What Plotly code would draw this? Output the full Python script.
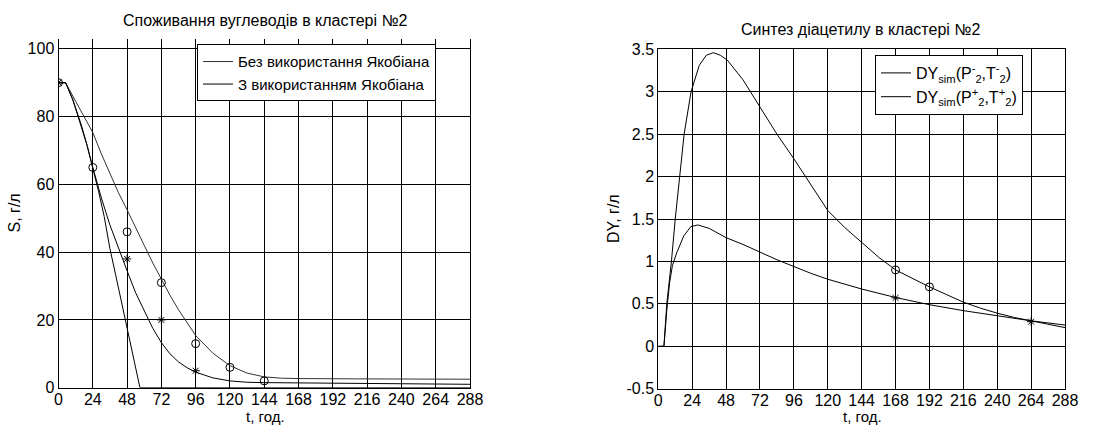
import plotly.graph_objects as go

# ---------------- data (left panel: substrate S, g/l) ----------------
t_A = [0, 5, 10, 16, 20, 24, 28, 32, 36, 40, 44, 48, 52, 56, 57, 100, 200, 288]
S_A = [90, 90, 85, 77.5, 71.5, 65, 58, 50.5, 41, 33.3, 25.5, 17, 9.5, 1.8, 0, 0, 0, 0]

t_B = [0, 5, 10, 16, 20, 24, 30, 36, 42, 48, 54, 60, 66, 72, 78, 84, 90, 96, 108, 120, 132, 144, 200, 288]
S_B = [90, 90, 85, 77, 71.5, 65, 56, 48, 41, 34.5, 28, 22.5, 17.5, 13.3, 10, 7.6, 5.9, 4.6, 2.9, 2.0, 1.6, 1.5, 1.3, 1.0]

t_C = [0, 5, 12, 18, 24, 30, 36, 42, 48, 54, 60, 66, 72, 78, 84, 90, 96, 108, 120, 132, 144, 156, 168, 210, 288]
S_C = [90, 90, 84.5, 80, 75.3, 69, 63, 57.5, 52.5, 47, 42, 36.8, 32, 27.3, 23, 19, 15.4, 10.2, 6.5, 4.3, 3.2, 2.8, 2.7, 2.6, 2.5]

t_circ_S = [0, 24, 48, 72, 96, 120, 144]
S_circ = [90, 65, 46, 31, 13, 6, 2]
t_star_S = [0, 48, 72, 96]
S_star = [90, 38, 20, 5]

# ---------------- data (right panel: diacetyl DY, g/l) ----------------
t_P = [0, 4, 6, 9.3, 12, 15, 18.3, 23.2, 29, 34, 39, 44, 49, 60, 72, 84, 96, 108, 120, 132,
       144, 156, 168, 180, 192, 204, 216, 228, 240, 252, 264, 276, 288]
DY_P = [0, 0, 0.5, 1.0, 1.5, 2.0, 2.5, 3.0, 3.31, 3.43, 3.46, 3.43, 3.37, 3.14, 2.82, 2.5, 2.21, 1.9, 1.6, 1.4,
        1.22, 1.05, 0.90, 0.80, 0.70, 0.61, 0.52, 0.45, 0.39, 0.34, 0.30, 0.26, 0.22]

t_Q = [0, 4, 6, 8, 10, 13, 18, 23, 28, 36, 48, 60, 72, 84, 96, 108, 120, 144, 168, 192, 216, 240, 264, 288]
DY_Q = [0, 0, 0.42, 0.75, 0.95, 1.1, 1.3, 1.41, 1.43, 1.39, 1.28, 1.2, 1.11, 1.02, 0.94, 0.86, 0.79, 0.675,
        0.575, 0.49, 0.42, 0.36, 0.30, 0.25]

t_circ_DY = [168, 192]
DY_circ = [0.9, 0.7]
t_star_DY = [168, 264]
DY_star = [0.57, 0.29]

x_ticks = list(range(0, 289, 24))
S_ticks = [0, 20, 40, 60, 80, 100]
DY_ticks = [-0.5, 0, 0.5, 1, 1.5, 2, 2.5, 3, 3.5]
DY_ticktext = ["-0.5", "0", "0.5", "1", "1.5", "2", "2.5", "3", "3.5"]

legend_S = ["Без використання Якобіана", "З використанням Якобіана"]
legend_DY = ["DY<sub>sim</sub>(P<sup>-</sup><sub>2</sub>,T<sup>-</sup><sub>2</sub>)",
             "DY<sub>sim</sub>(P<sup>+</sup><sub>2</sub>,T<sup>+</sup><sub>2</sub>)"]

FONT = "Liberation Sans, Arial, sans-serif"
FS = 16

fig = go.Figure()

# left panel
fig.add_trace(go.Scatter(x=t_C, y=S_C, mode="lines", name=legend_S[0],
                         line=dict(color="#333333", width=1), xaxis="x", yaxis="y", legend="legend"))
fig.add_trace(go.Scatter(x=t_B, y=S_B, mode="lines", name=legend_S[1],
                         line=dict(color="black", width=1), xaxis="x", yaxis="y", legend="legend"))
fig.add_trace(go.Scatter(x=t_A, y=S_A, mode="lines", showlegend=False,
                         line=dict(color="black", width=1), xaxis="x", yaxis="y"))
fig.add_trace(go.Scatter(x=t_circ_S, y=S_circ, mode="markers", showlegend=False,
                         marker=dict(symbol="circle-open", size=8, color="black", line=dict(width=1)),
                         xaxis="x", yaxis="y"))
fig.add_trace(go.Scatter(x=t_star_S, y=S_star, mode="markers", showlegend=False,
                         marker=dict(symbol="asterisk-open", size=7, color="black", line=dict(width=1, color="black")),
                         xaxis="x", yaxis="y"))

# right panel
fig.add_trace(go.Scatter(x=t_Q, y=DY_Q, mode="lines", name=legend_DY[0],
                         line=dict(color="black", width=1), xaxis="x2", yaxis="y2", legend="legend2"))
fig.add_trace(go.Scatter(x=t_P, y=DY_P, mode="lines", name=legend_DY[1],
                         line=dict(color="black", width=1), xaxis="x2", yaxis="y2", legend="legend2"))
fig.add_trace(go.Scatter(x=t_circ_DY, y=DY_circ, mode="markers", showlegend=False,
                         marker=dict(symbol="circle-open", size=8, color="black", line=dict(width=1)),
                         xaxis="x2", yaxis="y2"))
fig.add_trace(go.Scatter(x=t_star_DY, y=DY_star, mode="markers", showlegend=False,
                         marker=dict(symbol="asterisk-open", size=7, color="black", line=dict(width=1, color="black")),
                         xaxis="x2", yaxis="y2"))

W, H = 1110, 425

def px_x(p):
    return p / W

def px_y(p):
    return 1 - p / H

axis_common = dict(showgrid=True, gridcolor="black", gridwidth=1, zeroline=False,
                   showline=True, linecolor="black", linewidth=1, automargin=False,
                   ticks="", tickfont=dict(family=FONT, size=FS, color="black"))

fig.update_layout(
    template="none",
    width=W, height=H, autosize=False,
    margin=dict(l=0, r=0, t=0, b=0, pad=0, autoexpand=False),
    paper_bgcolor="white", plot_bgcolor="white",
    font=dict(family=FONT, size=FS, color="black"),
    hovermode=False,
    xaxis=dict(domain=[px_x(58.5), px_x(470)], range=[0, 288], tickvals=x_ticks, anchor="y",
               ticklabelstandoff=-3, **axis_common),
    yaxis=dict(domain=[px_y(387.7), px_y(39)], range=[0, 102.9], tickvals=S_ticks, anchor="x",
               mirror=True, **axis_common),
    xaxis2=dict(domain=[px_x(658.3), px_x(1065)], range=[0, 288], tickvals=x_ticks, anchor="y2",
                mirror=True, ticklabelstandoff=-3, **axis_common),
    yaxis2=dict(domain=[px_y(388.7), px_y(49.3)], range=[-0.5, 3.5], tickvals=DY_ticks,
                ticktext=DY_ticktext, anchor="x2", mirror=True, **axis_common),
    legend=dict(x=px_x(197), y=px_y(44.3), xanchor="left", yanchor="top",
                bgcolor="white", bordercolor="black", borderwidth=1,
                font=dict(family=FONT, size=15, color="black"), itemwidth=30,
                tracegroupgap=0),
    legend2=dict(x=px_x(875), y=px_y(55), xanchor="left", yanchor="top",
                 bgcolor="white", bordercolor="black", borderwidth=1,
                 font=dict(family=FONT, size=FS, color="black"), itemwidth=30,
                 tracegroupgap=0),
    showlegend=True,
)

annotations = [
    dict(text="Споживання вуглеводів в кластері №2", x=px_x(265), y=px_y(20), size=FS),
    dict(text="Синтез діацетилу в кластері №2", x=px_x(860), y=px_y(30), size=FS),
    dict(text="t, год.", x=px_x(265), y=px_y(416.5), size=15),
    dict(text="t, год.", x=px_x(862), y=px_y(416.5), size=15),
    dict(text="S, г/л", x=px_x(13.5), y=px_y(213), textangle=-90, size=FS),
    dict(text="DY, г/л", x=px_x(613), y=px_y(219), textangle=-90, size=FS),
]
for a in annotations:
    sz = a.pop("size")
    fig.add_annotation(xref="paper", yref="paper", showarrow=False,
                       xanchor="center", yanchor="middle",
                       font=dict(family=FONT, size=sz, color="black"), **a)

fig.write_html(
    "out.html",
    config={"displayModeBar": False, "responsive": False},
    post_script="document.body.style.margin='0px';document.body.style.padding='0px';"
                "document.documentElement.style.overflow='hidden';",
)
